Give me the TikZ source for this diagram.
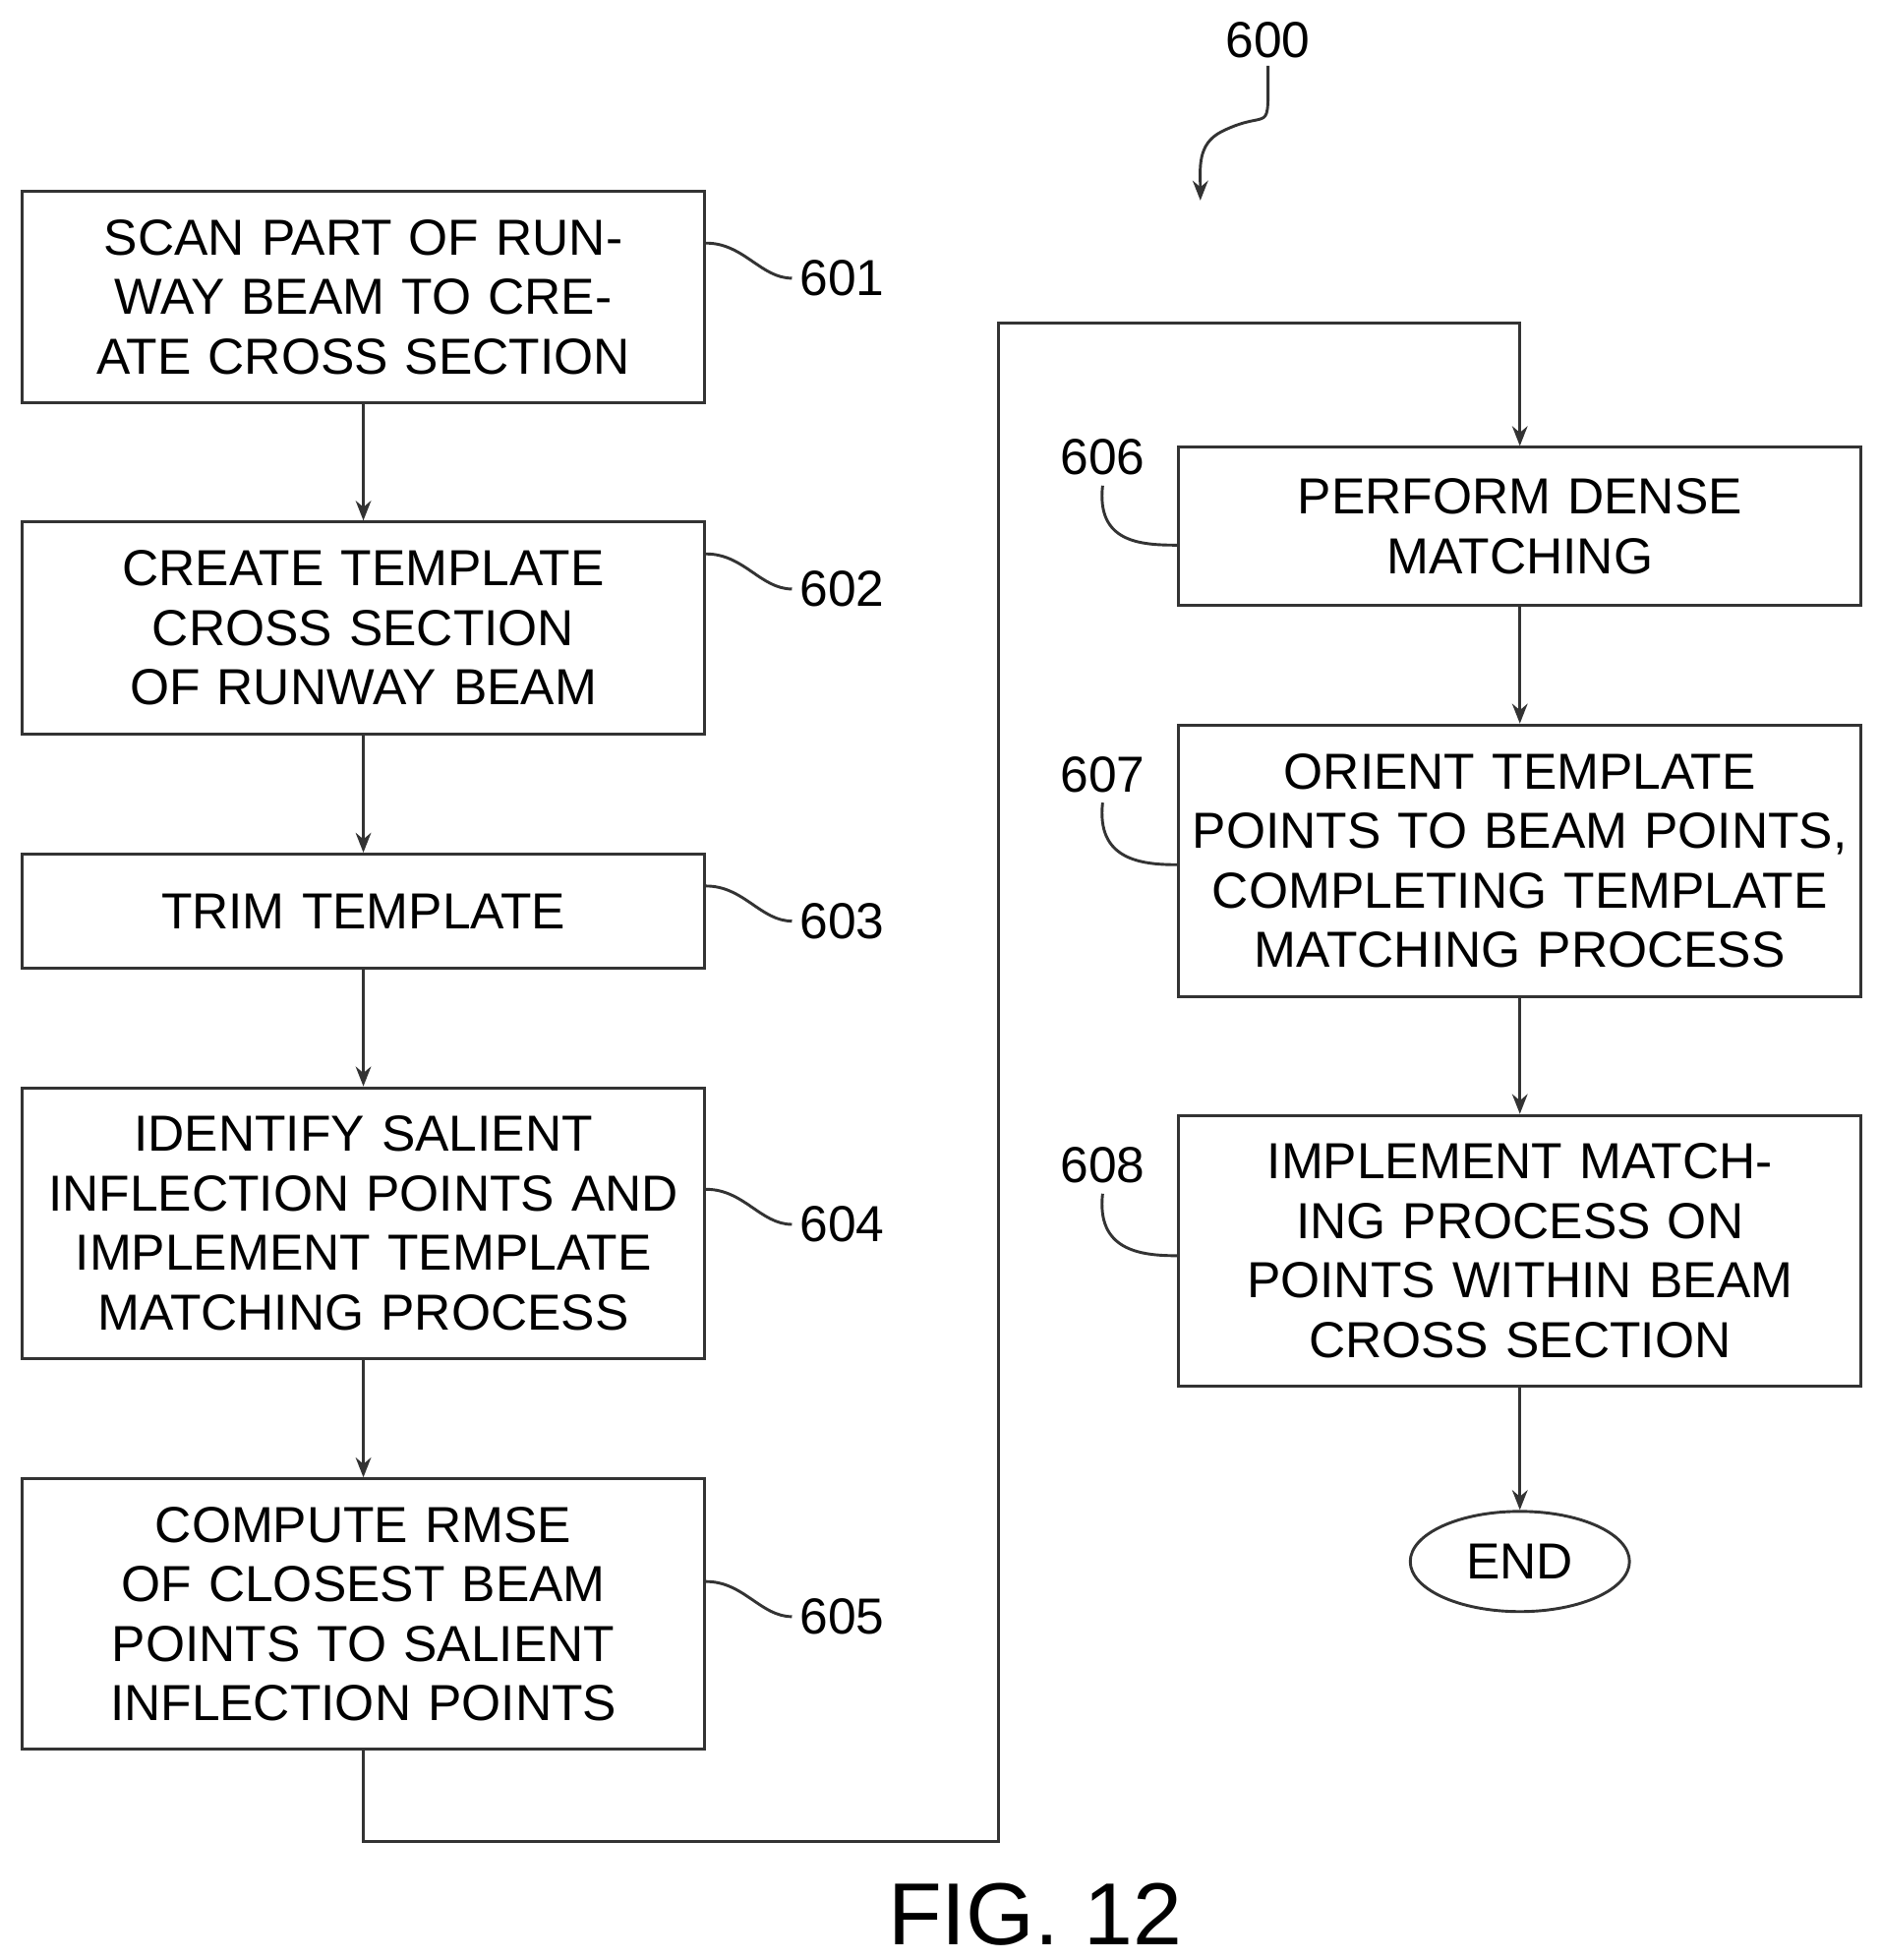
\documentclass[tikz,border=0pt]{standalone}
\usepackage{fontspec}
\setmainfont{Liberation Sans}
\usetikzlibrary{arrows.meta,shapes.geometric}
\begin{document}
\begin{tikzpicture}[x=0.02cm,y=-0.02cm,
  font=\fontsize{23}{27}\selectfont,
  stepbox/.style={draw=black!80,line width=1.3pt,minimum width=10.9cm,text width=10.5cm,align=center,inner sep=0pt},
  flow/.style={draw=black!80,line width=1.3pt,-{Stealth[length=9pt,width=7pt]}},
  lead/.style={draw=black!80,line width=1.3pt}]
  \useasboundingbox (0,0) rectangle (1500,1564);
  % left column
  \node[stepbox,minimum height=3.38cm] (s601) at (290,237) {SCAN PART OF RUNWAY BEAM TO CREATE CROSS SECTION};
  \node[stepbox,minimum height=3.38cm] (s602) at (290,501) {CREATE TEMPLATE CROSS SECTION OF RUNWAY BEAM};
  \node[stepbox,minimum height=1.82cm] (s603) at (290,727) {TRIM TEMPLATE};
  \node[stepbox,minimum height=4.32cm] (s604) at (290,976) {IDENTIFY SALIENT INFLECTION POINTS AND IMPLEMENT TEMPLATE MATCHING PROCESS};
  \node[stepbox,minimum height=4.32cm] (s605) at (290,1288) {COMPUTE RMSE OF CLOSEST BEAM POINTS TO SALIENT INFLECTION POINTS};
  % right column
  \node[stepbox,minimum height=2.52cm] (s606) at (1213,420) {PERFORM DENSE MATCHING};
  \node[stepbox,minimum height=4.34cm] (s607) at (1213,687) {ORIENT TEMPLATE POINTS TO BEAM POINTS, COMPLETING TEMPLATE MATCHING PROCESS};
  \node[stepbox,minimum height=4.32cm] (s608) at (1213,998) {IMPLEMENT MATCHING PROCESS ON POINTS WITHIN BEAM CROSS SECTION};
  \node[ellipse,draw=black!80,line width=1.3pt,minimum width=3.5cm,minimum height=1.6cm,inner sep=0pt] (end) at (1213,1246) {END};
  % connectors
  \draw[flow] (s601) -- (s602);
  \draw[flow] (s602) -- (s603);
  \draw[flow] (s603) -- (s604);
  \draw[flow] (s604) -- (s605);
  \draw[flow] (s605.south) -- ++(0,72) -| (797,258) -| (s606.north);
  \draw[flow] (s606) -- (s607);
  \draw[flow] (s607) -- (s608);
  \draw[flow] (s608) -- (end);
  % reference labels
  \node (n601) at (672,222) {601};
  \node (n602) at (672,470) {602};
  \node (n603) at (672,735) {603};
  \node (n604) at (672,977) {604};
  \node (n605) at (672,1290) {605};
  \node (n606) at (880,365) {606};
  \node (n607) at (880,618) {607};
  \node (n608) at (880,930) {608};
  \foreach \n in {601,602,603,604,605}
    \draw[lead] (s\n.east |- n\n.west) ++(0,-28) .. controls +(30,0) and +(-25,0) .. (n\n.west);
  \foreach \n/\yy in {606/435,607/690,608/1002}
    \draw[lead] (n\n.south) ++(0,2) .. controls +(-5,45) and +(-30,0) .. (s\n.west |- 0,\yy);
  \node (n600) at (1012,32) {600};
  \draw[flow] (n600.south) .. controls +(0,60) and +(40,-20) .. (975,105) .. controls +(-20,10) and +(0,-25) .. (958,160);
  \node[font=\fontsize{40}{44}\selectfont] (fig) at (826,1528) {FIG. 12};
\end{tikzpicture}
\end{document}
